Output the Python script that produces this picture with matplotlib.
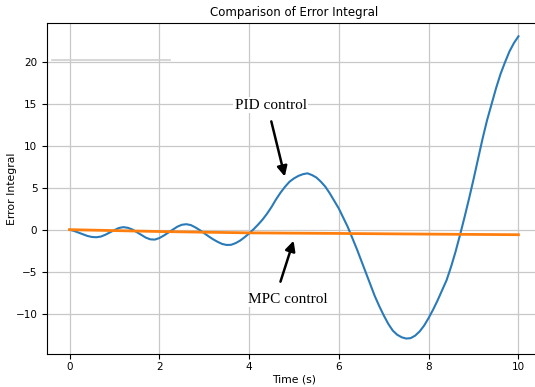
import matplotlib.pyplot as plt

# Temps (s) et intégrale de l'erreur (pas de 0.1 s)
temps_pid = [round(0.1 * i, 1) for i in range(101)]
erreur_pid = [0.0, -0.15, -0.35, -0.55, -0.75, -0.87, -0.9, -0.82, -0.6, -0.32,
              -0.05, 0.2, 0.3, 0.22, 0.02, -0.3, -0.62, -0.95, -1.15, -1.18,
              -1.0, -0.7, -0.35, 0.0, 0.35, 0.58, 0.65, 0.55, 0.28, -0.05,
              -0.42, -0.8, -1.15, -1.45, -1.7, -1.82, -1.8, -1.6, -1.3, -0.9,
              -0.45, 0.05, 0.6, 1.2, 1.9, 2.7, 3.6, 4.4, 5.1, 5.7,
              6.1, 6.4, 6.6, 6.7, 6.5, 6.2, 5.7, 5.1, 4.3, 3.4,
              2.5, 1.4, 0.3, -1.0, -2.3, -3.7, -5.1, -6.5, -7.9, -9.1,
              -10.2, -11.2, -12.0, -12.5, -12.8, -12.95, -12.9, -12.6, -12.1, -11.4,
              -10.5, -9.5, -8.4, -7.2, -6.0, -4.4, -2.6, -0.6, 1.5, 3.7,
              6.0, 8.4, 10.8, 13.0, 14.9, 16.8, 18.5, 19.9, 21.2, 22.2, 23.0]

temps_mpc = [0, 2, 4, 6, 8, 10]
erreur_mpc = [0.0, -0.22, -0.38, -0.45, -0.53, -0.6]

# trait gris parasite en haut à gauche (présent sur l'original)
trait_x = [-0.4, 2.23]
trait_y = [20.2, 20.2]

fig = plt.figure(figsize=(5.35, 3.87), dpi=100)
ax = fig.add_axes([0.088, 0.085, 0.923, 0.856])

ax.plot(trait_x, trait_y, color='#d0d0d0', lw=1.2)
ax.plot(temps_pid, erreur_pid, color='#2a7ab8', lw=1.5)
ax.plot(temps_mpc, erreur_mpc, color='#ff7f0e', lw=2)

ax.set_xlim(-0.5, 10.5)
ax.set_ylim(-14.8, 24.6)
ax.set_xticks([0, 2, 4, 6, 8, 10])
ax.set_yticks([-10, -5, 0, 5, 10, 15, 20])
ax.tick_params(labelsize=7.5)
ax.tick_params(axis='x', pad=2.5)
ax.grid(color='#c8c8c8', lw=0.9)
ax.set_axisbelow(True)

ax.set_title('Comparison of Error Integral', fontsize=8.5, pad=5)
ax.set_xlabel('Time (s)', fontsize=7.8, labelpad=1.5)
ax.set_ylabel('Error Integral', fontsize=7.8, labelpad=-1)

police = dict(family='Liberation Serif', fontsize=11)
fleche = dict(arrowstyle='-|>', color='black', lw=1.8, mutation_scale=15)
boite = dict(facecolor='white', edgecolor='none', pad=1)

ax.annotate('', xy=(4.81, 6.0), xytext=(4.48, 13.2), arrowprops=fleche)
ax.text(4.48, 14.8, 'PID control', ha='center', va='center', bbox=boite, **police)

ax.annotate('', xy=(5.01, -1.0), xytext=(4.68, -6.5), arrowprops=fleche)
ax.text(4.86, -8.3, 'MPC control', ha='center', va='center', bbox=boite, **police)

fig.savefig('out.png', dpi=100)
